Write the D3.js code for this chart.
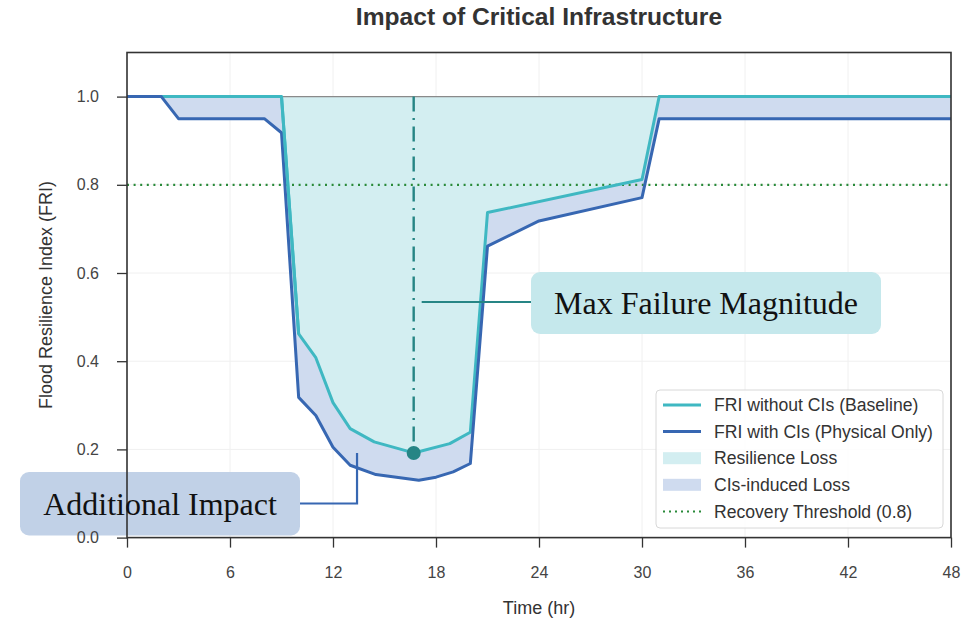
<!DOCTYPE html>
<html>
<head>
<meta charset="utf-8">
<script src="https://cdn.jsdelivr.net/npm/d3@7"></script>
<style>
  html, body { margin: 0; padding: 0; background: #fff; }
  svg { display: block; }
</style>
</head>
<body>
<svg id="chart" width="973" height="621"></svg>
<script>
// ---- data ----
const timeBase = [0, 9, 10, 11, 12, 13, 14.4, 16.7, 18.8, 20, 21, 30, 31, 48];
const friBase  = [1.0, 1.0, 0.462, 0.408, 0.306, 0.247, 0.217, 0.192, 0.213, 0.239, 0.737, 0.812, 1.0, 1.0];
const timePhys = [0, 2, 3, 8, 9, 10, 11, 12, 13, 14.5, 17, 18, 19, 20, 21, 24, 30, 31, 48];
const friPhys  = [1.0, 1.0, 0.95, 0.95, 0.918, 0.318, 0.277, 0.205, 0.164, 0.143, 0.130, 0.137, 0.149, 0.168, 0.661, 0.718, 0.771, 0.95, 0.95];
const xTicks = [0, 6, 12, 18, 24, 30, 36, 42, 48];
const yTicks = [0.0, 0.2, 0.4, 0.6, 0.8, 1.0];
const threshold = 0.8;
const maxFailureTime = 16.7;
const maxFailureValue = 0.192;
const legendLabels = ["FRI without CIs (Baseline)", "FRI with CIs (Physical Only)", "Resilience Loss", "CIs-induced Loss", "Recovery Threshold (0.8)"];
const titleText = "Impact of Critical Infrastructure";
const xLabel = "Time (hr)";
const yLabel = "Flood Resilience Index (FRI)";

// ---- styles ----
const C = {
  teal: "#3fb8c2", blue: "#3767b2", fillRes: "#d3eef1", fillCI: "#cfdbef",
  green: "#2a8a3a", marker: "#268585", boxMax: "#c5e8ec", boxAdd: "#bccde5",
  text: "#333", tick: "#444", frame: "#333"
};
const L = { left: 127, right: 951, top: 52.5, bottom: 537.6 };

const svg = d3.select("#chart");
const x = d3.scaleLinear().domain([0, 48]).range([L.left, L.right]);
const y = d3.scaleLinear().domain([0, 1.1]).range([L.bottom, L.top]);

const base = timeBase.map((t, i) => ({ t, v: friBase[i] }));
const phys = timePhys.map((t, i) => ({ t, v: friPhys[i] }));

// grid
const grid = svg.append("g");
xTicks.forEach(t => grid.append("line").attr("x1", x(t)).attr("x2", x(t)).attr("y1", L.top).attr("y2", L.bottom)
  .attr("stroke", "#f0f0f0").attr("stroke-width", 1));
yTicks.forEach(v => grid.append("line").attr("x1", L.left).attr("x2", L.right).attr("y1", y(v)).attr("y2", y(v))
  .attr("stroke", "#f0f0f0").attr("stroke-width", 1));

// fills
svg.append("path").datum(base)
  .attr("d", d3.area().x(d => x(d.t)).y0(y(1.0)).y1(d => y(d.v)))
  .attr("fill", C.fillRes);
const ciPoly = base.map(d => [x(d.t), y(d.v)]).concat(phys.slice().reverse().map(d => [x(d.t), y(d.v)]));
svg.append("path").attr("d", "M" + ciPoly.join("L") + "Z").attr("fill", C.fillCI);

// reference line at 1.0
svg.append("line").attr("x1", L.left).attr("x2", L.right).attr("y1", y(1.0)).attr("y2", y(1.0))
  .attr("stroke", "#8a8a8a").attr("stroke-width", 1.3);
// threshold
svg.append("line").attr("x1", L.left).attr("x2", L.right).attr("y1", y(threshold)).attr("y2", y(threshold))
  .attr("stroke", C.green).attr("stroke-width", 2.2).attr("stroke-dasharray", "2,4.6");

// curves
const line = d3.line().x(d => x(d.t)).y(d => y(d.v));
svg.append("path").datum(base).attr("d", line).attr("fill", "none").attr("stroke", C.teal)
  .attr("stroke-width", 3).attr("stroke-linejoin", "round");
svg.append("path").datum(phys).attr("d", line).attr("fill", "none").attr("stroke", C.blue)
  .attr("stroke-width", 3).attr("stroke-linejoin", "round");
svg.append("path").datum(base.slice(1, 3)).attr("d", line).attr("fill", "none").attr("stroke", C.teal)
  .attr("stroke-width", 3);

// max failure marker
svg.append("line").attr("x1", x(maxFailureTime)).attr("x2", x(maxFailureTime))
  .attr("y1", y(1.0)).attr("y2", y(maxFailureValue))
  .attr("stroke", C.marker).attr("stroke-width", 2.4).attr("stroke-dasharray", "15,6.5,2,6.5");
svg.append("circle").attr("cx", x(maxFailureTime)).attr("cy", y(maxFailureValue)).attr("r", 7).attr("fill", C.marker);

// legend
const fontSans = "Liberation Sans, Arial, sans-serif";
const lg = svg.append("g");
lg.append("rect").attr("x", 656).attr("y", 390).attr("width", 287).attr("height", 138).attr("rx", 4)
  .attr("fill", "#fff").attr("fill-opacity", 0.85).attr("stroke", "#d8d8d8").attr("stroke-width", 1);
const ly0 = 405, lstep = 26.6;
legendLabels.forEach((lab, i) => {
  const yy = ly0 + i * lstep;
  if (i === 0 || i === 1) {
    lg.append("line").attr("x1", 663).attr("x2", 701).attr("y1", yy).attr("y2", yy)
      .attr("stroke", i === 0 ? C.teal : C.blue).attr("stroke-width", 3);
  } else if (i === 2 || i === 3) {
    lg.append("rect").attr("x", 663).attr("y", yy - 6).attr("width", 38).attr("height", 12)
      .attr("fill", i === 2 ? C.fillRes : C.fillCI);
  } else {
    lg.append("line").attr("x1", 663).attr("x2", 701).attr("y1", yy).attr("y2", yy)
      .attr("stroke", C.green).attr("stroke-width", 2).attr("stroke-dasharray", "2,4");
  }
  lg.append("text").attr("x", 714).attr("y", yy).attr("dy", "0.35em").text(lab)
    .attr("font-family", fontSans).attr("font-size", 17.6).attr("fill", C.text);
});

// Max Failure annotation
svg.append("line").attr("x1", x(maxFailureTime) + 8).attr("x2", 531).attr("y1", 302).attr("y2", 302)
  .attr("stroke", C.marker).attr("stroke-width", 2.2);
svg.append("rect").attr("x", 531).attr("y", 272).attr("width", 350).attr("height", 62).attr("rx", 9).attr("fill", C.boxMax);
svg.append("text").attr("x", 706).attr("y", 314).attr("text-anchor", "middle").text("Max Failure Magnitude")
  .attr("font-family", "Liberation Serif, 'Times New Roman', serif").attr("font-size", 32).attr("fill", "#111");

// Additional impact annotation connector
svg.append("path").attr("d", `M300,503.5H${x(13.4)}V453`).attr("fill", "none")
  .attr("stroke", C.blue).attr("stroke-width", 2.2);
svg.append("rect").attr("x", 20).attr("y", 472).attr("width", 280).attr("height", 63.5).attr("rx", 9).attr("fill", C.boxAdd)
  .attr("fill-opacity", 0.92);

// axes
const xAxis = svg.append("g").attr("transform", `translate(0,${L.bottom})`)
  .call(d3.axisBottom(x).tickValues(xTicks).tickFormat(d3.format("d")).tickSize(10).tickPadding(19));
const yAxis = svg.append("g").attr("transform", `translate(${L.left},0)`)
  .call(d3.axisLeft(y).tickValues(yTicks).tickFormat(d3.format(".1f")).tickSize(10).tickPadding(18));
[xAxis, yAxis].forEach(a => {
  a.select(".domain").remove();
  a.selectAll(".tick line").attr("stroke", C.frame).attr("stroke-width", 1.3);
  a.selectAll(".tick text").attr("font-family", fontSans).attr("font-size", 16).attr("fill", C.tick);
});
svg.append("rect").attr("x", L.left).attr("y", L.top).attr("width", L.right - L.left).attr("height", L.bottom - L.top)
  .attr("fill", "none").attr("stroke", C.frame).attr("stroke-width", 1.6);

svg.append("text").attr("x", 160).attr("y", 515).attr("text-anchor", "middle").text("Additional Impact")
  .attr("font-family", "Liberation Serif, 'Times New Roman', serif").attr("font-size", 32).attr("fill", "#111");

// titles
svg.append("text").attr("x", (L.left + L.right) / 2).attr("y", 25).attr("text-anchor", "middle").text(titleText)
  .attr("font-family", fontSans).attr("font-weight", "bold").attr("font-size", 24.6).attr("fill", C.text);
svg.append("text").attr("x", (L.left + L.right) / 2).attr("y", 614).attr("text-anchor", "middle").text(xLabel)
  .attr("font-family", fontSans).attr("font-size", 18).attr("fill", C.text);
svg.append("text").attr("transform", `translate(52,${(L.top + L.bottom) / 2}) rotate(-90)`).attr("text-anchor", "middle").text(yLabel)
  .attr("font-family", fontSans).attr("font-size", 18).attr("fill", C.text);
</script>
</body>
</html>
